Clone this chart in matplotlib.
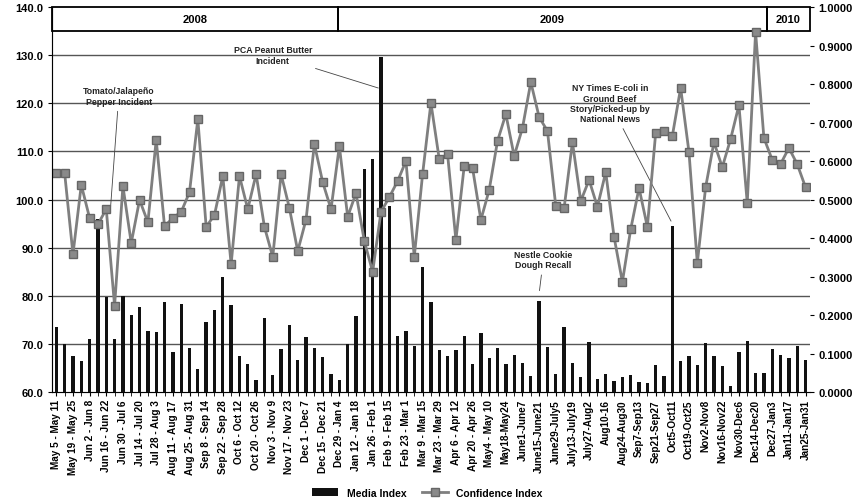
import numpy as np
import matplotlib
matplotlib.use('Agg')
import matplotlib.pyplot as plt
from matplotlib.patches import Rectangle
from matplotlib.ticker import FormatStrFormatter

plt.rcParams['font.family'] = ['Liberation Sans', 'DejaVu Sans']

# ---------------- data ----------------
labels = ["May 5 - May 11", "May 19 - May 25", "Jun 2 - Jun 8", "Jun 16 - Jun 22",
          "Jun 30 - Jul 6", "Jul 14 - Jul 20", "Jul 28 - Aug 3", "Aug 11 - Aug 17",
          "Aug 25 - Aug 31", "Sep 8 - Sep 14", "Sep 22 - Sep 28", "Oct 6 - Oct 12",
          "Oct 20 - Oct 26", "Nov 3 - Nov 9", "Nov 17 - Nov 23", "Dec 1 - Dec 7",
          "Dec 15 - Dec 21", "Dec 29 - Jan 4", "Jan 12 - Jan 18", "Jan 26 - Feb 1",
          "Feb 9 - Feb 15", "Feb 23 - Mar 1", "Mar 9 - Mar 15", "Mar 23 - Mar 29",
          "Apr 6 - Apr 12", "Apr 20 - Apr 26", "May4 - May 10", "May18-May24",
          "June1-June7", "June15-June21", "June29-July5", "July13-July19",
          "July27-Aug2", "Aug10-16", "Aug24-Aug30", "Sep7-Sep13", "Sep21-Sep27",
          "Oct5-Oct11", "Oct19-Oct25", "Nov2-Nov8", "Nov16-Nov22", "Nov30-Dec6",
          "Dec14-Dec20", "Dec27-Jan3", "Jan11-Jan17", "Jan25-Jan31"]

media_index = [73.5, 70.0, 67.5, 66.5, 71.0, 96.0, 79.7, 71.0, 80.0, 76.0,
               77.7, 72.7, 72.5, 78.7, 68.3, 78.3, 69.1, 64.8, 74.6, 77.0,
               83.9, 78.1, 67.5, 65.8, 62.5, 75.4, 63.5, 69.0, 74.0, 66.7,
               71.4, 69.1, 67.3, 63.7, 62.5, 70.0, 75.8, 106.4, 108.4, 129.6,
               98.7, 71.6, 72.7, 69.6, 86.0, 78.7, 68.7, 67.5, 68.7, 71.6,
               65.8, 72.3, 67.0, 69.1, 65.8, 67.7, 66.0, 63.3, 79.0, 69.4,
               63.7, 73.5, 66.0, 63.1, 70.4, 62.7, 63.7, 62.3, 63.1, 63.5,
               62.1, 61.9, 65.6, 63.3, 94.5, 66.4, 67.5, 65.6, 70.2, 67.5,
               65.4, 61.2, 68.3, 70.6, 64.0, 64.0, 68.9, 67.7, 67.0, 69.6,
               66.7]

confidence_index = [0.569, 0.569, 0.358, 0.538, 0.452, 0.436, 0.475, 0.224, 0.535, 0.387,
                    0.499, 0.441, 0.655, 0.431, 0.452, 0.468, 0.519, 0.709, 0.429, 0.460,
                    0.561, 0.332, 0.561, 0.475, 0.566, 0.429, 0.351, 0.566, 0.478, 0.366,
                    0.448, 0.644, 0.545, 0.475, 0.639, 0.455, 0.517, 0.392, 0.312, 0.468,
                    0.506, 0.548, 0.600, 0.351, 0.566, 0.751, 0.605, 0.618, 0.395, 0.587,
                    0.582, 0.447, 0.525, 0.652, 0.722, 0.613, 0.686, 0.805, 0.714, 0.678,
                    0.483, 0.478, 0.649, 0.496, 0.551, 0.481, 0.571, 0.403, 0.286, 0.423,
                    0.530, 0.429, 0.673, 0.678, 0.665, 0.790, 0.623, 0.335, 0.532, 0.649,
                    0.584, 0.657, 0.745, 0.491, 0.935, 0.660, 0.603, 0.592, 0.634, 0.592,
                    0.532]

years = ["2008", "2009", "2010"]
year_bounds = [-0.5, 33.8, 85.4, 90.5]   # in week positions

x = np.arange(len(media_index))

# ---------------- figure ----------------
fig = plt.figure(figsize=(8.55, 5.02), dpi=100)
ax = fig.add_axes([0.061, 0.217, 0.886, 0.767])
ax2 = ax.twinx()

ax.set_zorder(1)
ax2.set_zorder(2)
ax.patch.set_visible(False)

ax.set_ylim(60, 140)
ax.set_xlim(-0.5, len(media_index) - 0.5)
ax2.set_ylim(0, 1.0)

ax.set_yticks(np.arange(60, 141, 10))
ax.yaxis.set_major_formatter(FormatStrFormatter('%.1f'))
ax2.set_yticks(np.arange(0, 1.01, 0.1))
ax2.yaxis.set_major_formatter(FormatStrFormatter('%.4f'))

for v in range(70, 135, 10):
    ax.axhline(v, color='#555555', lw=1.0, zorder=0)

bars = ax.bar(x, media_index, width=0.4, bottom=0, color='#111111', zorder=2,
              label='Media Index')
ax.set_ylim(60, 140)

line, = ax2.plot(x, confidence_index, color='#7f7f7f', lw=2, marker='s', ms=6,
                 mfc='#8a8a8a', mec='#666666', label='Confidence Index')

# x ticks: every other week labelled
ax.set_xticks(x[::2])
ax.set_xticklabels(labels, rotation=90, fontsize=7.2, fontweight='bold')
ax.set_xticks(x, minor=True)
ax.tick_params(axis='x', which='both', length=3, pad=2)
ax.tick_params(axis='y', labelsize=8, length=3)
ax2.tick_params(axis='y', labelsize=8, length=3)
for t in ax.get_yticklabels() + ax2.get_yticklabels():
    t.set_fontweight('bold')

for a in (ax, ax2):
    a.spines['top'].set_visible(False)
    a.spines['right'].set_visible(False)
ax.spines['left'].set_color('#888888')
ax.spines['bottom'].set_color('#888888')

# year band
for i, yr in enumerate(years):
    x0, x1 = year_bounds[i], year_bounds[i + 1]
    ax.add_patch(Rectangle((x0, 135), x1 - x0, 5, fill=False, ec='black', lw=1.3,
                           zorder=5, clip_on=False))
    ax.text((x0 + x1) / 2, 137.5, yr, ha='center', va='center', fontsize=8,
            fontweight='bold', zorder=6)

# annotations
ann = dict(fontsize=6.3, fontweight='bold', ha='center', va='center', color='#222222')
arrow = dict(arrowstyle='-', color='#444444', lw=0.6)
ax.annotate("Tomato/Jalapeño\nPepper Incident", xy=(6.5, 98), xytext=(7.5, 121.5),
            arrowprops=arrow, **ann)
ax.annotate("PCA Peanut Butter\nIncident", xy=(39, 123), xytext=(26, 130),
            arrowprops=arrow, **ann)
ax.annotate("Nestle Cookie\nDough Recall", xy=(58, 80.5), xytext=(58.5, 87.5),
            arrowprops=arrow, **ann)
ax.annotate("NY Times E-coli in\nGround Beef\nStory/Picked-up by\nNational News",
            xy=(74, 95), xytext=(66.5, 120), arrowprops=arrow, **ann)

fig.legend(handles=[bars, line], labels=['Media Index', 'Confidence Index'],
           loc='lower center', bbox_to_anchor=(0.5, -0.012), ncol=2, frameon=False,
           handlelength=2.5, columnspacing=1.5,
           prop={'weight': 'bold', 'size': 7.5})

fig.savefig('out.png', dpi=100)
